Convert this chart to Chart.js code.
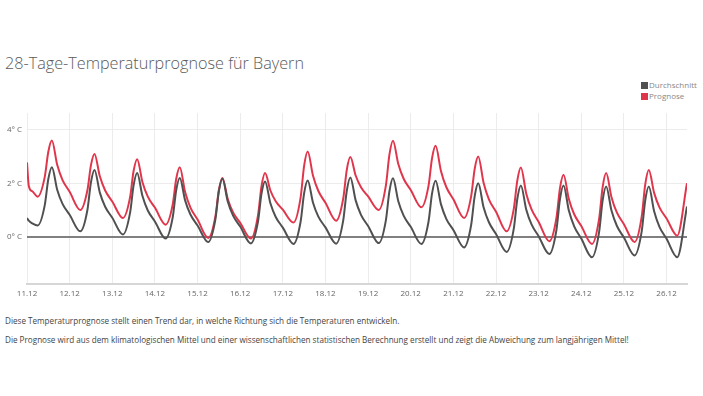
<!DOCTYPE html>
<html>
<head>
<meta charset="utf-8">
<script src="https://cdn.jsdelivr.net/npm/chart.js@4.4.1/dist/chart.umd.min.js"></script>
<style>
    body{margin:0;width:703px;height:396px;background:#fff;font-family:'Open Sans',sans-serif;position:relative;overflow:hidden;}
    #titel{position:absolute;left:5px;top:52px;font-size:16.2px;font-weight:300;color:#5a5a5a;white-space:nowrap;}
    #legende{position:absolute;left:641px;top:79px;font-size:8px;color:#888;line-height:11px;}
    #legende span{display:inline-block;width:7px;height:7px;margin-right:1px;vertical-align:-1px;}
    #box{position:absolute;left:0;top:100px;width:703px;height:210px;}
    .text{position:absolute;left:5px;font-size:8.15px;color:#444;white-space:nowrap;}
</style>
</head>
<body>
<div id="titel">28-Tage-Temperaturprognose für Bayern</div>
<div id="legende">
    <div><span style="background:#505050"></span>Durchschnitt</div>
    <div><span style="background:#e0364c"></span>Prognose</div>
</div>
<div id="box"><canvas id="Grafico"></canvas></div>
<div class="text" style="top:315px">Diese Temperaturprognose stellt einen Trend dar, in welche Richtung sich die Temperaturen entwickeln.</div>
<div class="text" style="top:334px">Die Prognose wird aus dem klimatologischen Mittel und einer wissenschaftlichen statistischen Berechnung erstellt und zeigt die Abweichung zum langjährigen Mittel!</div>
<script>
// Stunden ab 11.12 00:00
const stunden=[0,1,3,
    6,10,12,14,17,20,24,
    30,34,36,38,41,44,48,
    54,58,60,62,65,68,72,
    78,82,84,86,89,92,96,
    102,106,108,110,113,116,120,
    126,130,132,134,137,140,144,
    150,154,156,158,161,164,168,
    174,178,180,182,185,188,192,
    198,202,204,206,209,212,216,
    222,226,228,230,233,236,240,
    246,250,252,254,257,260,264,
    270,274,276,278,281,284,288,
    294,298,300,302,305,308,312,
    318,322,324,326,329,332,336,
    342,346,348,350,353,356,360,
    366,371.5];
const durchschnitt=[0.7,0.6,0.5,
    0.42,1.18,2.16,2.6,1.76,1.23,0.82,
    0.2,1.0,2.04,2.5,1.65,1.12,0.71,
    0.08,0.89,1.92,2.38,1.52,0.98,0.57,
    -0.07,0.72,1.75,2.2,1.36,0.83,0.42,
    -0.2,0.63,1.7,2.17,1.32,0.79,0.38,
    -0.25,0.56,1.61,2.07,1.25,0.74,0.34,
    -0.27,0.56,1.63,2.1,1.27,0.75,0.35,
    -0.26,0.61,1.72,2.22,1.36,0.82,0.4,
    -0.24,0.61,1.7,2.19,1.33,0.79,0.37,
    -0.27,0.56,1.62,2.09,1.22,0.67,0.25,
    -0.4,0.44,1.52,2.0,1.1,0.54,0.1,
    -0.57,0.3,1.42,1.92,1.02,0.46,0.02,
    -0.65,0.25,1.41,1.92,0.98,0.39,-0.07,
    -0.77,0.16,1.35,1.88,0.98,0.41,-0.03,
    -0.7,0.2,1.36,1.88,0.95,0.37,-0.08,
    -0.77,1.13];
const prognose=[2.78,1.9,1.7,
    1.5,2.24,3.18,3.6,2.69,2.12,1.68,
    1.0,1.74,2.68,3.1,2.26,1.73,1.32,
    0.7,1.47,2.46,2.9,2.04,1.5,1.09,
    0.45,1.2,2.17,2.6,1.67,1.09,0.64,
    -0.05,0.74,1.75,2.2,1.41,0.91,0.52,
    -0.07,0.79,1.89,2.38,1.73,1.33,1.01,
    0.53,1.46,2.66,3.19,2.28,1.71,1.27,
    0.6,1.43,2.5,2.98,2.29,1.85,1.51,
    1.0,1.91,3.07,3.59,2.72,2.17,1.75,
    1.1,1.9,2.94,3.4,2.46,1.86,1.4,
    0.7,1.51,2.54,3.0,2.02,1.4,0.93,
    0.2,1.04,2.11,2.59,1.62,1.02,0.55,
    -0.17,0.7,1.82,2.32,1.41,0.84,0.4,
    -0.27,0.66,1.85,2.38,1.48,0.91,0.47,
    -0.2,0.75,1.96,2.5,1.64,1.1,0.68,
    0.04,2.0];
const tage=['11.12','12.12','13.12','14.12','15.12','16.12','17.12','18.12',
    '19.12','20.12','21.12','22.12','23.12','24.12','25.12','26.12'];
const yTicks=[0,2,4];

function punkte(werte){
    return werte.map((w,i)=>({x:stunden[i],y:w}));
}

let CanvasG=document.getElementById('Grafico').getContext('2d');
let datos={
    datasets:[
        {
            label:'Durchschnitt',
            data:punkte(durchschnitt),
            borderColor:'#505050',
            borderWidth:2,
            pointRadius:0,
            cubicInterpolationMode:'monotone',
        },
        {
            label:'Prognose',
            data:punkte(prognose),
            borderColor:'#e0364c',
            borderWidth:2,
            pointRadius:0,
            cubicInterpolationMode:'monotone',
        },
    ]
}
let opciones={
    responsive:true,
    maintainAspectRatio:false,
    animation:false,
    layout:{padding:{top:13,right:16,left:0,bottom:0}},
    plugins:{legend:{display:false},tooltip:{enabled:false}},
    scales:{
        x:{
            type:'linear',
            min:0,
            max:stunden[stunden.length-1],
            afterBuildTicks:function(scale){
                scale.ticks=tage.map((t,i)=>({value:i*24}));
            },
            afterFit:function(scale){scale.height=26;},
            ticks:{
                callback:function(v){return tage[Math.round(v/24)];},
                color:'#666',
                font:{family:'Open Sans',size:8},
                padding:5,
                maxRotation:0,
                autoSkip:false,
            },
            grid:{color:'#ececec',lineWidth:1,drawTicks:false},
            border:{display:true,color:'#d6d6d6',width:2},
        },
        y:{
            min:-1.77,
            max:4.63,
            afterBuildTicks:function(scale){
                scale.ticks=yTicks.map(v=>({value:v}));
            },
            afterFit:function(scale){scale.width=27;},
            ticks:{
                callback:function(v){return v+'° C';},
                color:'#666',
                font:{family:'Open Sans',size:8},
                padding:5,
            },
            grid:{
                drawTicks:false,
                color:function(c){return c.tick && c.tick.value===0 ? '#808080' : '#ececec';},
                lineWidth:function(c){return c.tick && c.tick.value===0 ? 2 : 1;},
            },
            border:{display:false},
        }
    }
}
let G = new Chart(CanvasG,{
    type:'line',
    data:datos,
    options:opciones,
})
</script>
</body>
</html>
